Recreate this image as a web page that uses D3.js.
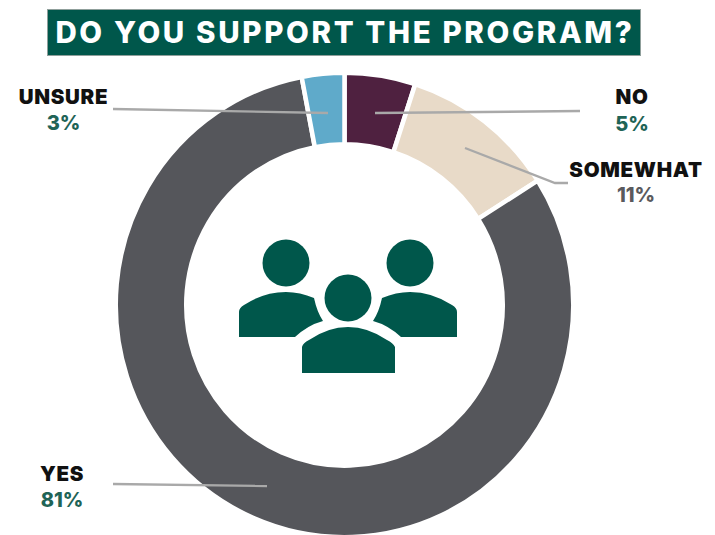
<!DOCTYPE html>
<html>
<head>
<meta charset="utf-8">
<script src="https://cdn.jsdelivr.net/npm/d3@7"></script>
<style>
  html, body { margin: 0; padding: 0; background: #fff; }
  svg { display: block; }
  text { font-family: Inter, "Open Sans", sans-serif; }
</style>
</head>
<body>
<div id="chart"></div>
<script>
const title = "DO YOU SUPPORT THE PROGRAM?";
const categories = ["NO", "SOMEWHAT", "YES", "UNSURE"];
const values = [5, 11, 81, 3];
const sliceColors = ["#4f2140", "#e8dac8", "#55565b", "#5faaca"];
const percentColors = ["#1f6457", "#5a5a5e", "#1f6457", "#1f6457"];

const width = 715, height = 535;
const center = { x: 344.5, y: 305 };
const sliceGap = 4.5;
// The white slice outline straddles each edge, so the radii allow for half of it
const outerRadius = 226.5 + sliceGap / 2, innerRadius = 160.5 - sliceGap / 2;
const verticalStretch = 1.015;

const svg = d3.select("#chart").append("svg")
  .attr("width", width).attr("height", height)
  .attr("viewBox", [0, 0, width, height]);

// Title banner
svg.append("rect")
  .attr("x", 47.5).attr("y", 9.5).attr("width", 593).attr("height", 46)
  .attr("fill", "#00574b")
  .attr("stroke", "#8f9f9b")
  .attr("stroke-width", 1);
svg.append("text")
  .attr("x", 345).attr("y", 43)
  .attr("text-anchor", "middle")
  .attr("fill", "#fff")
  .attr("font-size", 29.5).attr("font-weight", 800)
  .attr("letter-spacing", 2.65)
  .text(title);

// Donut
const pie = d3.pie().sort(null).value(d => d);
const arc = d3.arc().innerRadius(innerRadius).outerRadius(outerRadius);
const ring = svg.append("g")
  .attr("transform", `translate(${center.x},${center.y}) scale(1,${verticalStretch})`);
ring.selectAll("path")
  .data(pie(values))
  .join("path")
  .attr("d", arc)
  .attr("fill", (d, i) => sliceColors[i])
  .attr("stroke", "#fff")
  .attr("stroke-width", sliceGap);

// Leader lines, one polyline per category
const leaders = [
  [[580, 111], [375, 113]],
  [[465, 148], [555, 183], [568, 183]],
  [[113, 484], [267, 486]],
  [[113, 109], [328, 113]]
];
const line = d3.line();
svg.append("g").selectAll("path")
  .data(leaders)
  .join("path")
  .attr("d", line)
  .attr("fill", "none")
  .attr("stroke", "#a9a9a9")
  .attr("stroke-width", 2.4);

// Category labels with their percentages
const labelAnchors = [[632, 104, 131], [636, 177, 202], [62, 481, 507], [63.5, 104, 130]];
const labels = svg.append("g").selectAll("g")
  .data(categories)
  .join("g");
labels.append("text")
  .attr("x", (d, i) => labelAnchors[i][0])
  .attr("y", (d, i) => labelAnchors[i][1])
  .attr("text-anchor", "middle")
  .attr("font-size", 20.5).attr("font-weight", 900)
  .attr("letter-spacing", 0.7)
  .attr("fill", "#111")
  .text(d => d);
labels.append("text")
  .attr("x", (d, i) => labelAnchors[i][0])
  .attr("y", (d, i) => labelAnchors[i][2])
  .attr("text-anchor", "middle")
  .attr("font-size", 20).attr("font-weight", 800)
  .attr("fill", (d, i) => percentColors[i])
  .text((d, i) => values[i] + "%");

// Three-person icon in the donut hole
const icon = svg.append("g").attr("fill", "#00574b");
[[286, 263], [410, 263], [348, 298]].forEach(([cx, cy]) => {
  icon.append("circle").attr("cx", cx).attr("cy", cy).attr("r", 23.5);
});
// Centre figure's shoulders
icon.append("path")
  .attr("d", "M302 373 V347 Q303 343 309 340 Q328 327 348 327 Q368 327 387 340 Q393 343 395 347 V373 Z");
// Left figure's shoulders; the right one is its mirror image about the centre figure
const sideBody = "M239 337 V312 Q239 308 244 305 Q264 292 286 292 Q300 292 314 298 Q317 312 323 321 Q308 325 295 337 Z";
icon.append("path").attr("d", sideBody);
icon.append("path").attr("d", sideBody).attr("transform", "translate(696,0) scale(-1,1)");
</script>
</body>
</html>
